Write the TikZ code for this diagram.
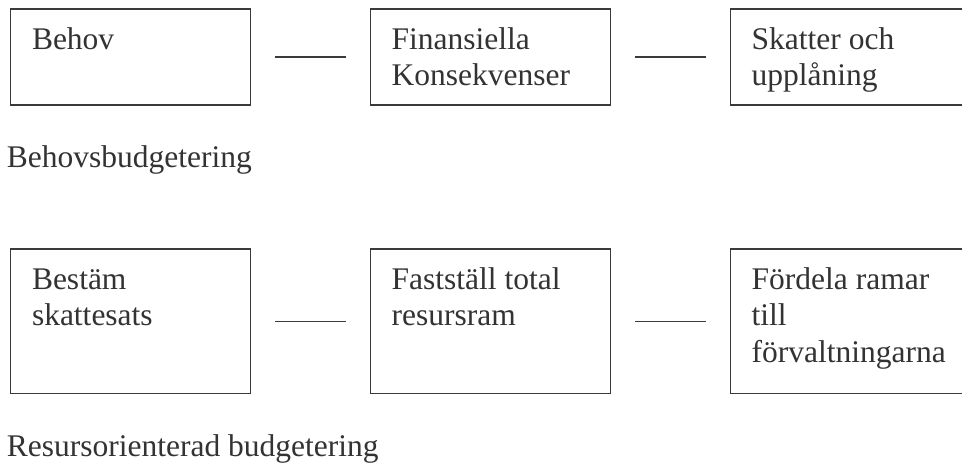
\documentclass[tikz,border=0pt]{standalone}
\usepackage{fontspec}
\setmainfont{Liberation Serif}
\usetikzlibrary{positioning}
\definecolor{ink}{HTML}{333333}
\definecolor{rule}{HTML}{3A3A3A}
\tikzset{
  box/.style={draw=rule, line width=1.3pt, inner sep=0pt, anchor=north west, minimum width=240pt},
  topbox/.style={box, minimum height=96pt},
  botbox/.style={box, minimum height=144.5pt},
  lbl/.style={anchor=base west, inner sep=0pt, text=ink, font=\fontsize{31.5}{36.5}\selectfont},
  link/.style={draw=rule, line width=1.3pt}
}
\newcommand{\lines}[1]{\parbox[t]{215pt}{\raggedright #1}}
\begin{document}
\begin{tikzpicture}[x=1pt, y=-1pt]
\clip (0,0) rectangle (962,464);
\fill[white] (0,0) rectangle (962,464);
% top row
\node[topbox] (a1) at (9.8,8.3) {};
\node[topbox] (a2) at (369.5,8.3) {};
\node[topbox] (a3) at (729.5,8.3) {};
\node[lbl] (ta1) at ([shift={(22pt,-41pt)}]a1.north west) {\lines{Behov}};
\node[lbl] (ta2) at ([shift={(22pt,-41pt)}]a2.north west) {\lines{Finansiella\\Konsekvenser}};
\node[lbl] (ta3) at ([shift={(22pt,-41pt)}]a3.north west) {\lines{Skatter och\\upplåning}};
\draw[link] ([xshift=24pt]a1.east) -- ([xshift=-24pt]a2.west);
\draw[link] ([xshift=24pt]a2.east) -- ([xshift=-24pt]a3.west);
\node[lbl] (cap1) at (6.7,167) {Behovsbudgetering};
% bottom row
\node[botbox] (b1) at (9.8,248.3) {};
\node[botbox] (b2) at (369.5,248.3) {};
\node[botbox] (b3) at (729.5,248.3) {};
\node[lbl] (tb1) at ([shift={(22pt,-41pt)}]b1.north west) {\lines{Bestäm\\skattesats}};
\node[lbl] (tb2) at ([shift={(22pt,-41pt)}]b2.north west) {\lines{Fastställ total\\resursram}};
\node[lbl] (tb3) at ([shift={(22pt,-41pt)}]b3.north west) {\lines{Fördela ramar\\till\\förvaltningarna}};
\draw[link] ([xshift=24pt]b1.east) -- ([xshift=-24pt]b2.west);
\draw[link] ([xshift=24pt]b2.east) -- ([xshift=-24pt]b3.west);
\node[lbl] (cap2) at (6.7,456.7) {Resursorienterad budgetering};
\end{tikzpicture}
\end{document}
